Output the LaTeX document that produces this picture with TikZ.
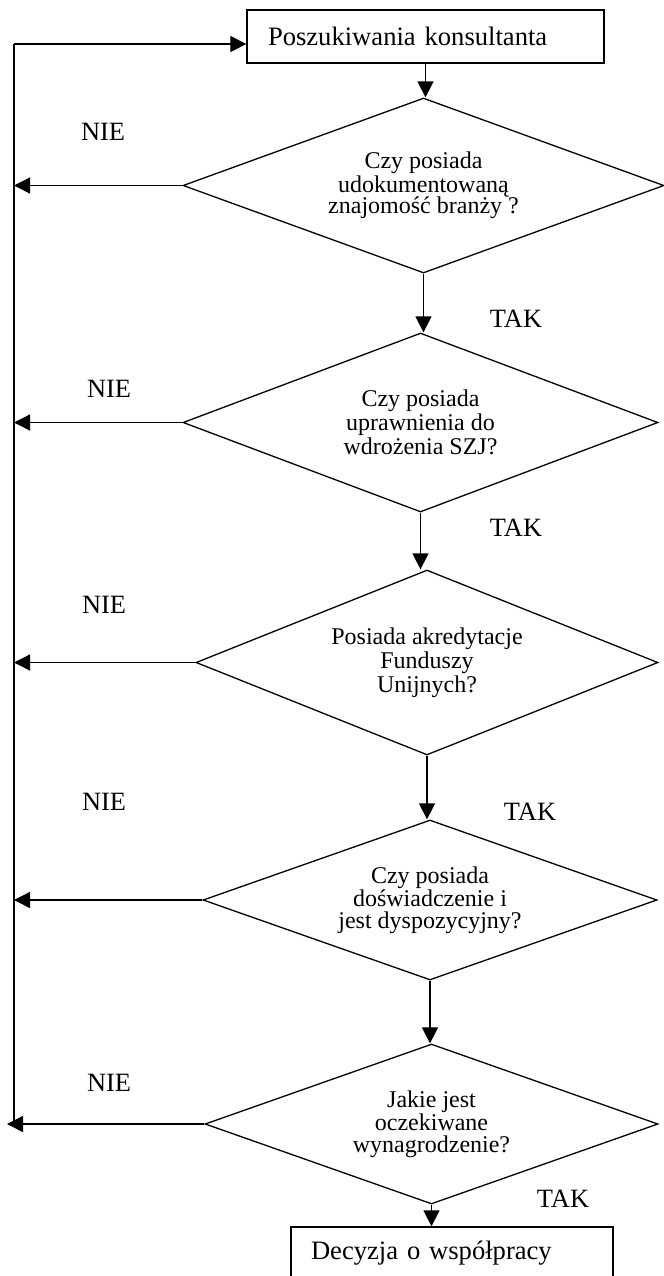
\documentclass[tikz,border=0pt]{standalone}
\usepackage{fontspec}
\setmainfont{Liberation Serif}
\usetikzlibrary{shapes.geometric, arrows.meta, positioning, calc}
\tikzstyle{decision} = [diamond, draw, line width=0.65pt, inner sep=0pt, aspect=2.6, align=center, font=\fontsize{12}{10.75}\selectfont]
\tikzstyle{block} = [rectangle, draw, line width=0.65pt, inner xsep=10.5pt, align=left, font=\fontsize{13.3}{16}\selectfont]
\tikzstyle{answer} = [inner sep=0pt, font=\fontsize{13.2}{16}\selectfont]
\tikzstyle{line} = [draw, line width=0.7pt, -{Triangle[length=8pt, width=8pt]}]

\begin{document}
\begin{tikzpicture}[x=0.5pt, y=-0.5pt]
    \useasboundingbox (0,0) rectangle (664,1276);
    \clip (0,0) rectangle (664,1276);

    % Nodes
    \node [block, text width=157.5pt, minimum height=26.5pt] (search) at (425.5,36.5) {Poszukiwania konsultanta};
    \node [decision, minimum width=240.5pt, minimum height=87.5pt] (branch) at (423.5,185.5) {Czy posiada\\udokumentowaną\\znajomość branży ?};
    \node [decision, minimum width=237.5pt, minimum height=89.5pt] (rights) at (420.5,422.5) {Czy posiada\\uprawnienia do\\wdrożenia SZJ?};
    \node [decision, minimum width=231pt, minimum height=92.5pt] (funds) at (427,662.5) {Posiada akredytacje\\Funduszy\\Unijnych?};
    \node [decision, minimum width=227pt, minimum height=80pt] (exper) at (430,900) {Czy posiada\\doświadczenie i\\jest dyspozycyjny?};
    \node [decision, minimum width=226.5pt, minimum height=80pt] (salary) at (431.5,1124) {Jakie jest\\oczekiwane\\wynagrodzenie?};
    \node [block, text width=141pt, inner xsep=10pt, minimum height=26.5pt] (decide) at (452,1253.5) {Decyzja o współpracy};

    % Labels
    \node [answer] (nie1) at (103,132) {NIE};
    \node [answer] (nie2) at (109,389) {NIE};
    \node [answer] (nie3) at (104,605) {NIE};
    \node [answer] (nie4) at (104,802) {NIE};
    \node [answer] (nie5) at (109,1083) {NIE};
    \node [answer] (tak1) at (516,319) {TAK};
    \node [answer] (tak2) at (516,528) {TAK};
    \node [answer] (tak3) at (530,812) {TAK};
    \node [answer] (tak4) at (563,1199) {TAK};

    % Return line
    \coordinate (top) at (14,44);
    \coordinate (end) at (7,1122);
    \draw [line width=0.7pt] (top |- salary.west) -- (top);
    \path [line] (top) -- (top -| search.west);

    % Lines
    \path [line] (search.south) -- (search.south |- branch.north);
    \path [line] (branch.south) -- (branch.south |- rights.north);
    \path [line] (rights.south) -- (rights.south |- funds.north);
    \path [line] (funds.south) -- (funds.south |- exper.north);
    \path [line] (exper.south) -- (exper.south |- salary.north);
    \path [line] (salary.south) -- (salary.south |- decide.north);

    \path [line] (branch.west) -- (branch.west -| top);
    \path [line] (rights.west) -- (rights.west -| top);
    \path [line] (funds.west) -- (funds.west -| top);
    \path [line] (exper.west) -- (exper.west -| top);
    \path [line] (salary.west) -- (salary.west -| end);

\end{tikzpicture}
\end{document}
